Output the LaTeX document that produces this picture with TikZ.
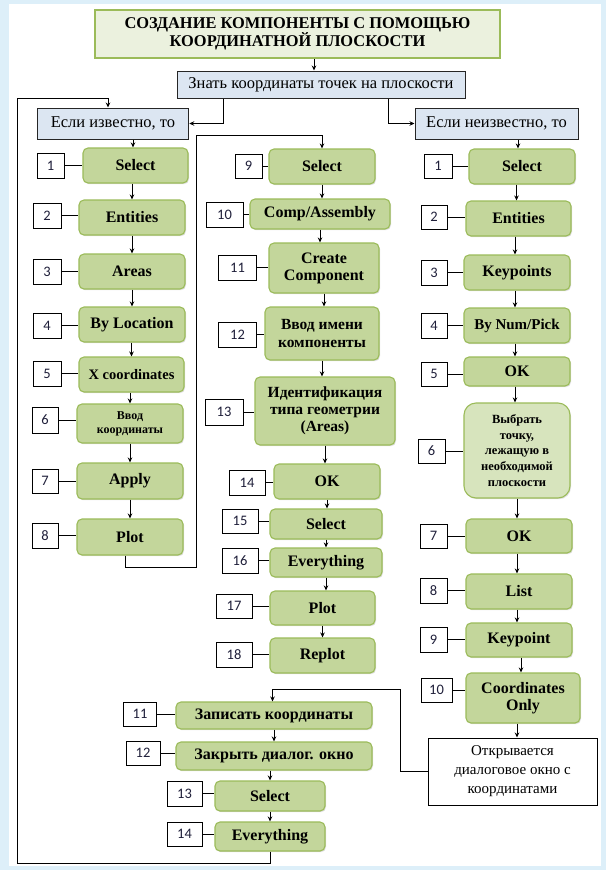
\documentclass[tikz,border=0pt]{standalone}
\usepackage{fontspec}
\setmainfont{Liberation Serif}
\newfontfamily\lblfont{Carlito}
\usetikzlibrary{arrows.meta,shadows}
\definecolor{gfill}{HTML}{C3D69B}
\definecolor{gline}{HTML}{9BBB59}
\definecolor{gfillL}{HTML}{D7E4BD}
\definecolor{tfill}{HTML}{EBF1DE}
\definecolor{bfill}{HTML}{DCE6F2}
\definecolor{bgblue}{HTML}{DDEFF9}
\definecolor{numcol}{HTML}{1F1F3A}
\tikzset{
  sz/.style 2 args={minimum width=#1pt, minimum height=#2pt},
  gbox/.style={draw=gline, fill=gfill, line width=1.1pt, rounded corners=5pt, align=center, inner sep=1pt,
    font=\bfseries\fontsize{16}{17}\selectfont,
    drop shadow={shadow xshift=1pt, shadow yshift=-1.2pt, opacity=0.25}},
  bbox/.style={draw=black!85, fill=bfill, line width=1pt, inner sep=1pt, font=\fontsize{16.5}{18}\selectfont},
  lbl/.style={draw=black, fill=white, line width=0.9pt, inner sep=0pt, text=numcol, font=\lblfont\fontsize{14.5}{14.5}\selectfont},
  arr/.style={draw=black, line width=0.9pt, -{Stealth[length=5pt,width=4.5pt]}},
  ln/.style={draw=black, line width=0.9pt},
}
\begin{document}
\begin{tikzpicture}[x=1pt,y=-1pt]
\useasboundingbox (0,0) rectangle (606,870);
\fill[bgblue] (0,0) rectangle (606,870);
\fill[white] (9,4) rectangle (601,866);

% top
\node[draw=gline, fill=tfill, line width=1.5pt, sz={405}{48}, align=center, inner sep=1pt,
  font=\bfseries\fontsize{16.4}{17}\selectfont] (title) at (297.5,34)
  {СОЗДАНИЕ КОМПОНЕНТЫ С ПОМОЩЬЮ\\КООРДИНАТНОЙ ПЛОСКОСТИ};
\node[bbox, sz={288}{27}] (know) at (321,84.5) {Знать координаты точек на плоскости};
\node[bbox, sz={151.5}{31}] (ifk) at (113,123.5) {Если известно, то};
\node[bbox, sz={163}{31}] (ifu) at (496.5,123.5) {Если неизвестно, то};

% left column
\node[gbox, sz={105}{35}] (lsel) at (135.5,165.5) {Select};
\node[gbox, sz={106}{35}] (lent) at (132,217.5) {Entities};
\node[gbox, sz={106}{35}] (lare) at (132,271.5) {Areas};
\node[gbox, sz={106}{35}] (lbyl) at (132,324.5) {By Location};
\node[gbox, sz={105}{35}, font=\bfseries\fontsize{14.5}{16}\selectfont] (lxc) at (131.5,374.5) {X coordinates};
\node[gbox, sz={106}{39}, font=\bfseries\fontsize{12}{14}\selectfont] (lvvod) at (130,423.5) {Ввод\\координаты};
\node[gbox, sz={106}{36}] (lapp) at (130,481) {Apply};
\node[gbox, sz={106}{36}] (lplot) at (130,537) {Plot};

\node[lbl, sz={27}{25}] (l1) at (50.5,165.5) {1};
\node[lbl, sz={28}{25}] (l2) at (47,215.5) {2};
\node[lbl, sz={28}{25}] (l3) at (47,271.5) {3};
\node[lbl, sz={28}{25}] (l4) at (47,325.5) {4};
\node[lbl, sz={28}{25}] (l5) at (47,373.5) {5};
\node[lbl, sz={26}{26}] (l6) at (45,420) {6};
\node[lbl, sz={26}{24}] (l7) at (45,481) {7};
\node[lbl, sz={26}{25}] (l8) at (45,535.5) {8};

% middle column
\node[gbox, sz={106}{35}] (m9) at (322,166.5) {Select};
\node[gbox, sz={140}{30}] (m10) at (320,214) {Comp/Assembly};
\node[gbox, sz={110}{50}] (m11) at (324,268) {Create\\Component};
\node[gbox, sz={114}{53}, font=\bfseries\fontsize{15.5}{18}\selectfont] (m12) at (322,333.5) {Ввод имени\\компоненты};
\node[gbox, sz={140}{68}, font=\bfseries\fontsize{15.5}{17}\selectfont] (m13) at (325,411) {Идентификация\\типа геометрии\\(Areas)};
\node[gbox, sz={106}{35}] (m14) at (327,481.5) {OK};
\node[gbox, sz={112}{30}] (m15) at (326,524) {Select};
\node[gbox, sz={112}{29}] (m16) at (326,562.5) {Everything};
\node[gbox, sz={105}{34}] (m17) at (322.5,608) {Plot};
\node[gbox, sz={105}{35}] (m18) at (322.5,655.5) {Replot};

\node[lbl, sz={27}{24}] (n9) at (248.5,166) {9};
\node[lbl, sz={37}{25}] (n10) at (224.5,214.5) {10};
\node[lbl, sz={38}{25}] (n11) at (237.5,267.5) {11};
\node[lbl, sz={38}{25}] (n12) at (237.5,334.5) {12};
\node[lbl, sz={38}{26}] (n13) at (224,412) {13};
\node[lbl, sz={36}{25}] (n14) at (247,482.5) {14};
\node[lbl, sz={36}{24}] (n15) at (240,521) {15};
\node[lbl, sz={36}{25}] (n16) at (240,560.5) {16};
\node[lbl, sz={36}{24}] (n17) at (234,606) {17};
\node[lbl, sz={36}{25}] (n18) at (234,654.5) {18};

% right column
\node[gbox, sz={106}{35}] (r1) at (522,166.5) {Select};
\node[gbox, sz={105}{35}] (r2) at (518.5,218.5) {Entities};
\node[gbox, sz={106}{35}] (r3) at (517,272.5) {Keypoints};
\node[gbox, sz={106}{35}, font=\bfseries\fontsize{15}{16}\selectfont] (r4) at (517,325.5) {By Num/Pick};
\node[gbox, sz={106}{29}] (r5) at (517,371.5) {OK};
\node[gbox, sz={106}{95}, fill=gfillL, rounded corners=12pt, font=\bfseries\fontsize{12.5}{15.7}\selectfont] (r6) at (517,450.5)
  {Выбрать\\точку,\\лежащую в\\необходимой\\плоскости};
\node[gbox, sz={106}{34}] (r7) at (519,536) {OK};
\node[gbox, sz={106}{35}] (r8) at (519,591.5) {List};
\node[gbox, sz={106}{34}] (r9) at (519,640) {Keypoint};
\node[gbox, sz={114}{50}] (r10) at (523,698) {Coordinates\\Only};
\node[draw=black, fill=white, line width=1pt, sz={169}{67}, align=center, inner sep=1pt,
  font=\fontsize{15}{19}\selectfont] (open) at (512.5,771.5) {Открывается\\диалоговое окно с\\координатами};

\node[lbl, sz={28}{24}] (q1) at (438,166) {1};
\node[lbl, sz={26}{24}] (q2) at (434,217) {2};
\node[lbl, sz={26}{25}] (q3) at (434,272.5) {3};
\node[lbl, sz={26}{25}] (q4) at (434,325.5) {4};
\node[lbl, sz={26}{24}] (q5) at (434,374) {5};
\node[lbl, sz={27}{24}] (q6) at (431.5,451) {6};
\node[lbl, sz={27}{24}] (q7) at (433.5,536) {7};
\node[lbl, sz={27}{25}] (q8) at (433.5,590.5) {8};
\node[lbl, sz={27}{25}] (q9) at (433.5,639.5) {9};
\node[lbl, sz={31}{24}] (q10) at (436.5,690) {10};

% bottom
\node[gbox, sz={196}{27}] (b11) at (274,715.5) {Записать координаты};
\node[gbox, sz={196}{28}] (b12) at (274,756) {Закрыть диалог. окно};
\node[gbox, sz={110}{30}] (b13) at (270,796) {Select};
\node[gbox, sz={110}{29}] (b14) at (270,836.5) {Everything};

\node[lbl, sz={33}{24}] (p11) at (140,714) {11};
\node[lbl, sz={34}{24}] (p12) at (143,753) {12};
\node[lbl, sz={35}{25}] (p13) at (184.5,793.5) {13};
\node[lbl, sz={35}{24}] (p14) at (184.5,834) {14};

% coordinates for loops
\coordinate (la) at (17,863);
\coordinate (lb) at (17,98);
\coordinate (ca) at (196,567);
\coordinate (cb) at (196,135);
\coordinate (cc) at (400,689);

% top connectors
\draw[arr] ([xshift=16.5pt]title.south) -- ([xshift=16.5pt]title.south |- know.north);
\draw[arr] ([xshift=-98pt]know.south) |- (ifk.east);
\draw[arr] ([xshift=67pt]know.south) |- (ifu.west);
\draw[arr] (b14.south) |- (la) -- (lb) -| ([xshift=-5pt]ifk.north);
\draw[arr] ([xshift=-5pt]lplot.south) |- (ca) -- (cb) -| (m9.north);
\draw[arr] (open.west) -| (cc) -| ([xshift=-1.5pt]b11.north);

% left column arrows
\draw[arr] ([xshift=-2.5pt]lsel.north |- ifk.south) -- ([xshift=-2.5pt]lsel.north);
\foreach \a/\b in {lsel/lent, lent/lare, lare/lbyl, lbyl/lxc, lxc/lvvod, lvvod/lapp, lapp/lplot}
  \draw[arr] (\b.north |- \a.south) -- (\b.north);

% middle column arrows
\foreach \a/\b in {m9/m10, m10/m11, m11/m12, m12/m13, m13/m14, m14/m15, m15/m16, m16/m17, m17/m18}
  \draw[arr] (\a.south) -- (\a.south |- \b.north);

% right column arrows
\draw[arr] ([xshift=-4pt]r1.north |- ifu.south) -- ([xshift=-4pt]r1.north);
\foreach \a/\b in {r1/r2, r2/r3, r3/r4, r4/r5, r5/r6, r6/r7, r7/r8, r8/r9, r9/r10}
  \draw[arr] ([xshift=-2pt]\b.north |- \a.south) -- ([xshift=-2pt]\b.north);
\draw[arr] ([xshift=-6pt]r10.south) -- ([xshift=-6pt]r10.south |- open.north);

% bottom arrows
\foreach \a/\b in {b11/b12, b12/b13, b13/b14}
  \draw[arr] (\b.north |- \a.south) -- (\b.north);

% label connectors
\foreach \l/\n in {l1/lsel, l2/lent, l3/lare, l4/lbyl, l5/lxc, l6/lvvod, l7/lapp, l8/lplot,
  n9/m9, n10/m10, n11/m11, n12/m12, n13/m13, n14/m14, n15/m15, n16/m16, n17/m17, n18/m18,
  q1/r1, q2/r2, q3/r3, q4/r4, q5/r5, q6/r6, q7/r7, q8/r8, q9/r9, q10/r10,
  p11/b11, p12/b12, p13/b13, p14/b14}
  \draw[ln] (\l.east) -- (\l.east -| \n.west);
\end{tikzpicture}
\end{document}
